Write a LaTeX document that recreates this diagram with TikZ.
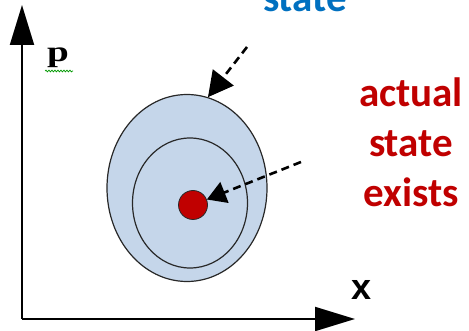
\documentclass[tikz,border=0pt]{standalone}
\usepackage{fontspec}
\setmainfont{Carlito}
\newfontfamily\axisfont{Liberation Sans}
\newfontfamily\pfont{Liberation Serif}
\usetikzlibrary{arrows.meta,shapes.geometric,decorations.pathmorphing}
\definecolor{fillblue}{RGB}{197,214,234}
\definecolor{dotred}{RGB}{192,0,0}
\definecolor{txtred}{RGB}{192,0,0}
\definecolor{txtblue}{RGB}{0,112,192}
\definecolor{rimgray}{RGB}{40,40,40}
\tikzset{
  axis/.style={line width=2pt,-{Triangle[length=40pt,width=24pt]}},
  pointer/.style={line width=2.6pt,dash pattern=on 8pt off 5pt},
  region/.style={ellipse,draw=rimgray,line width=1.2pt,fill=fillblue,inner sep=0pt},
  bigtext/.style={font=\bfseries\fontsize{41}{50}\selectfont,align=center,inner sep=0pt},
  axlabel/.style={inner sep=0pt}
}
\begin{document}
\begin{tikzpicture}[x=1pt,y=-1pt]
\useasboundingbox (0,0) rectangle (469,331);
\begin{scope}
\clip (0,0) rectangle (469,331);
\node[bigtext,text=txtblue,anchor=base] (est) at (305,12) {state};
\end{scope}
\coordinate (o) at (22,319);
\coordinate (ytip) at (22,5);
\coordinate (xtip) at (355,319);
\draw[axis] (o) -- (ytip);
\draw[axis] (o) -- (xtip);
\node[axlabel,font=\pfont\bfseries\fontsize{29}{30}\selectfont,anchor=base] (p) at (58,62) {\scalebox{1.35}[1]{p}};
\coordinate (sq1) at (45,71);
\coordinate (sq2) at (73,71);
\draw[green!60!black,line width=0.7pt,decorate,decoration={snake,amplitude=0.9pt,segment length=3pt}] (sq1) -- (sq2);
\node[axlabel,font=\axisfont\bfseries\fontsize{36}{40}\selectfont,anchor=base] (x) at (362,300) {x};
\node[region,minimum width=160pt,minimum height=187pt] (outer) at (187,188) {};
\node[region,minimum width=115pt,minimum height=130pt] (inner) at (190,203) {};
\node[circle,fill=dotred,draw=rimgray,line width=0.8pt,minimum size=29pt,inner sep=0pt] (dot) at (193,205) {};
\coordinate (s1) at (247,47);
\coordinate (s2) at (301,162);
\draw[pointer,-{Triangle[length=25pt,width=26pt]}] (s1) -- (outer.77);
\draw[pointer,-{Triangle[length=19pt,width=22pt]}] (s2) -- (dot);
\node[bigtext,text=txtred,anchor=base] (act) at (411,207) {actual\\state\\exists};
\end{tikzpicture}
\end{document}
